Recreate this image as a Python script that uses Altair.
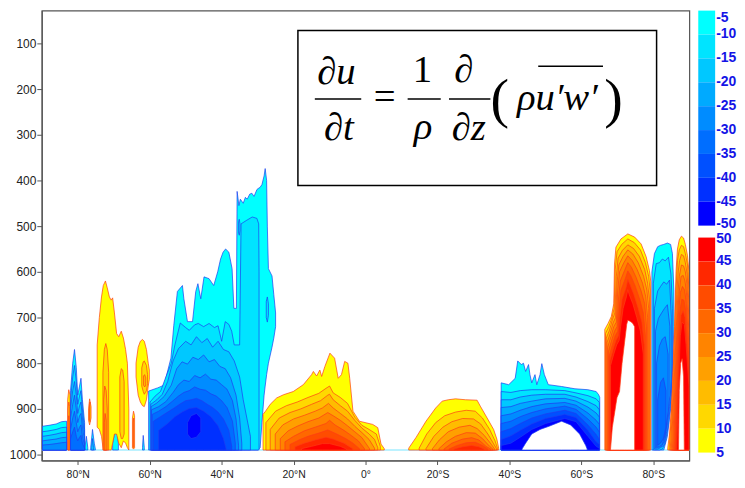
import altair as alt
import pandas as pd

BOTTOM = 990  # lowest model level (hPa)

NEG_COLORS = ["#00ffff", "#00e4ff", "#00c8ff", "#00aaff", "#008cff",
              "#006eff", "#0050ff", "#0030ff", "#0000ff"]
POS_COLORS = ["#ffff00", "#ffd800", "#ffbc00", "#ffa000", "#ff8400",
              "#ff6800", "#ff4c00", "#ff2800", "#ff0000"]
NEG_TICKS = [-5, -10, -15, -20, -25, -30, -35, -40, -45, -50]
POS_TICKS = [50, 45, 40, 35, 30, 25, 20, 15, 10, 5]
X_TICKS = [80, 60, 40, 20, 0, -20, -40, -60, -80]
Y_TICKS = [100, 200, 300, 400, 500, 600, 700, 800, 900, 1000]

# ---- contour regions: (level, [(lat, top_hPa[, bottom_hPa]) ...]) ----
NH_POLAR = [
    (1, [(89.8, 938), (88.0, 936), (86.0, 933), (84.5, 928), (83.1, 927)]),
    (2, [(89.8, 950), (88.0, 948), (86.0, 945), (84.5, 941), (83.1, 940)]),
    (3, [(89.8, 960), (88.0, 958), (86.0, 955), (84.5, 952), (83.1, 951)]),
    (4, [(89.8, 970), (88.0, 968), (86.0, 966), (84.5, 963), (83.1, 962)]),
    (5, [(89.8, 979), (88.0, 978), (86.0, 976), (84.5, 974), (83.1, 973)]),
]
NH_SPIKES_LAT = [82.0, 81.4, 80.9, 80.4, 80.0, 79.5, 79.1, 78.7, 78.1]
NH_SPIKES_TOPS = [
    [860, 800, 770, 810, 870, 850, 833, 880, 930],
    [880, 830, 805, 840, 890, 872, 860, 900, 945],
    [900, 860, 840, 870, 910, 893, 885, 920, 958],
    [920, 890, 870, 900, 930, 915, 910, 940, 970],
    [945, 920, 905, 930, 950, 940, 935, 960, 980],
    [965, 950, 940, 960, 970, 962, 958, 975, 986],
]
NH_SMALL_BLUE = [
    (1, [(78.0, 985), (77.6, 960), (77.2, 985)]),
    (1, [(76.4, 985), (75.9, 945), (75.4, 975), (75.1, 988)]),
    (2, [(76.1, 985), (75.9, 965), (75.6, 985)]),
    (1, [(70.3, 975), (69.8, 955), (69.4, 945), (69.0, 955), (68.7, 975)]),
    (1, [(62.0, 985), (61.8, 958), (61.5, 985)]),
]
NH_RED_STRIPS = [
    (1, [(82.8, 880), (82.5, 858), (82.15, 870)]),
    (2, [(82.7, 900), (82.5, 885), (82.25, 895)]),
    (3, [(82.65, 930), (82.5, 915), (82.35, 925)]),
    (1, [(77.0, 900, 925), (76.7, 878, 935), (76.3, 895, 920)]),
    (2, [(76.75, 890, 925), (76.6, 885, 928)]),
    (1, [(64.8, 920, 985), (64.5, 905, 988), (64.2, 915, 985)]),
    (2, [(64.6, 930, 985), (64.45, 920, 985)]),
]
NH_YELLOW = [
    (1, [(74.6, 760, 940), (74.0, 700, 945), (73.4, 655, 960), (72.9, 630, 990),
         (72.3, 620, 990), (71.8, 635, 990), (71.2, 655, 990), (70.7, 662, 990),
         (70.3, 657, 975), (69.8, 690, 955), (69.2, 735, 955), (68.6, 742, 975),
         (67.9, 730, 985), (67.3, 745, 970), (66.7, 770, 975), (66.2, 800, 985),
         (65.8, 900, 990)]),
    (2, [(73.0, 820), (72.6, 770), (72.2, 757), (71.8, 770), (71.4, 820)]),
    (2, [(68.3, 830, 950), (67.9, 812, 965), (67.5, 815, 965), (67.1, 840, 955)]),
    (3, [(72.8, 880), (72.5, 850), (72.1, 860), (71.8, 900)]),
    (4, [(72.6, 930), (72.4, 910), (72.1, 925)]),
    (1, [(63.8, 800, 830), (63.2, 765, 870), (62.6, 752, 885), (62.0, 748, 893),
         (61.5, 752, 895), (60.9, 770, 880), (60.4, 800, 850), (60.1, 815, 835)]),
    (2, [(62.2, 810, 850), (61.8, 797, 862), (61.5, 795, 868), (60.9, 805, 860),
         (60.6, 825, 845)]),
    (3, [(61.7, 828, 848), (61.4, 825, 852), (61.1, 832, 848)]),
]
NH_BIG_BLUE = [
    (1, [(60.3, 861), (57.8, 854), (56.0, 848), (54.1, 789), (53.3, 717), (52.3, 643),
         (50.9, 630), (50.5, 659), (49.5, 709), (48.1, 709), (47.2, 643), (46.6, 626),
         (45.8, 659), (44.9, 611), (43.5, 615), (42.2, 630), (41.1, 600), (40.3, 572),
         (39.6, 557), (38.9, 550), (38.0, 557), (37.1, 593), (36.6, 680), (35.9, 680),
         (35.7, 424), (35.2, 455), (34.8, 441), (34.0, 450), (33.4, 437), (32.9, 441),
         (32.2, 430), (31.6, 428), (31.0, 435), (30.2, 420), (29.9, 418),
         (29.3, 415, 985), (28.8, 409, 930), (28.2, 390, 870), (27.9, 374, 850),
         (27.5, 400, 825), (27.3, 500, 815), (27.0, 593, 800), (26.0, 609, 765),
         (25.5, 650, 745), (25.0, 690, 720)]),
    (2, [(59.9, 885), (58.5, 872), (57.0, 862), (55.5, 830), (54.0, 800), (53.0, 760),
         (51.5, 712), (50.0, 722), (49.0, 728), (47.5, 716), (46.5, 713), (45.0, 720),
         (43.5, 713), (42.0, 722), (41.0, 718), (40.0, 752), (39.0, 709), (38.0, 715),
         (37.2, 730), (36.5, 760), (35.0, 760), (34.6, 495), (33.0, 487), (31.5, 480),
         (30.2, 483), (29.7, 495), (29.6, 600)]),
    (2, [(35.3, 490, 515), (35.1, 485, 520), (34.9, 495, 510)]),
    (2, [(27.6, 665, 700), (27.3, 655, 710), (27.0, 670, 695)]),
    (3, [(59.7, 890), (58.0, 880), (56.5, 868), (55.0, 840), (53.5, 795), (52.0, 768),
         (50.0, 752), (48.5, 760), (47.0, 742), (45.5, 755), (44.0, 746), (42.5, 765),
         (41.0, 752), (39.5, 770), (38.0, 775), (36.5, 795), (35.0, 830), (34.0, 880),
         (33.0, 920), (32.0, 960)]),
    (4, [(59.6, 895), (58.0, 887), (56.0, 873), (54.0, 848), (52.5, 812), (51.0, 797),
         (49.5, 802), (48.0, 787), (46.5, 792), (45.0, 782), (43.5, 797), (42.0, 792),
         (40.5, 807), (39.0, 812), (37.5, 832), (36.0, 870), (35.0, 920), (34.4, 975)]),
    (5, [(59.5, 902), (57.5, 895), (55.5, 884), (53.5, 864), (52.0, 847), (50.5, 837),
         (49.0, 840), (47.5, 827), (46.0, 832), (44.5, 824), (43.0, 835), (41.5, 837),
         (40.0, 847), (38.5, 857), (37.0, 882), (36.0, 922), (35.3, 980)]),
    (6, [(59.3, 912), (57.5, 905), (55.5, 895), (53.5, 882), (52.0, 872), (50.5, 864),
         (49.0, 860), (47.5, 852), (46.0, 857), (44.5, 859), (43.0, 867), (41.5, 872),
         (40.0, 882), (38.5, 897), (37.0, 927), (36.2, 975)]),
    (7, [(59.0, 927), (57.0, 917), (55.0, 907), (53.0, 897), (51.5, 889), (50.0, 882),
         (48.5, 880), (47.0, 877), (45.5, 882), (44.0, 890), (42.5, 897), (41.0, 907),
         (39.5, 922), (38.0, 947), (37.2, 982)]),
    (8, [(57.5, 947), (55.0, 932), (53.0, 917), (51.0, 907), (49.0, 899), (47.0, 897),
         (45.0, 905), (43.0, 917), (41.0, 937), (39.5, 965), (38.8, 986)]),
    (9, [(49.5, 930, 955), (48.5, 915, 965), (47.0, 910, 962), (45.8, 920, 950)]),
]
TROP_RED = [
    (1, [(28.5, 912), (27.8, 905), (26.5, 890), (24.7, 876), (22.8, 869), (20.1, 862),
         (17.3, 847), (15.0, 825), (14.5, 818), (13.6, 828), (12.7, 815), (12.2, 829),
         (11.3, 807), (9.9, 778), (8.6, 789), (7.6, 833), (6.7, 825), (5.8, 796),
         (4.9, 800), (4.4, 833), (3.5, 905), (1.7, 927), (-2.0, 934), (-3.4, 941),
         (-4.3, 977), (-5.2, 987)]),
    (2, [(27.7, 930), (25, 905), (22, 893), (19, 885), (16, 875), (13, 866), (11, 855),
         (10, 850), (9, 865), (7, 875), (5, 888), (3, 918), (1, 936), (-1, 945),
         (-3, 955), (-4.1, 982)]),
    (3, [(26.5, 945), (24, 920), (21, 908), (18, 900), (15, 890), (12.5, 882), (10.5, 870),
         (10, 868), (9, 880), (7, 893), (5, 905), (3, 925), (1, 942), (-1, 955),
         (-2.5, 967), (-3.4, 985)]),
    (4, [(25.1, 955), (23, 935), (20, 922), (17, 914), (14, 905), (12, 898), (10.3, 888),
         (9, 898), (7, 910), (5, 922), (3, 938), (1, 952), (-1, 967), (-2.5, 986)]),
    (5, [(23.7, 965), (21.5, 948), (19, 938), (16, 928), (13, 920), (10.5, 908), (9, 915),
         (7, 925), (5, 937), (3, 950), (1, 963), (-1.1, 987)]),
    (6, [(22.4, 972), (20, 960), (17, 948), (14, 940), (11, 932), (10, 925), (8.5, 935),
         (6, 947), (4, 958), (2, 970), (0.3, 987)]),
    (7, [(21.0, 978), (18.5, 968), (16, 960), (13, 953), (10.5, 946), (8, 955),
         (5.5, 965), (3.5, 975), (1.7, 987)]),
    (8, [(19.6, 983), (17, 975), (14, 968), (11, 962), (9, 966), (6, 975), (3.6, 987)]),
    (9, [(17.8, 987), (15, 982), (12, 976), (10, 976), (7, 982), (5.3, 988)]),
]
SH_SUB_RED = [
    (1, [(-12.0, 986), (-14.0, 963), (-16.8, 927), (-19.5, 898), (-21.3, 883),
         (-23.0, 880), (-25.0, 878), (-27.8, 880), (-31.0, 881), (-31.9, 894),
         (-33.8, 920), (-35.6, 945), (-36.5, 966), (-37.0, 986)]),
    (2, [(-14.9, 986), (-17, 955), (-19.5, 930), (-22, 915), (-25, 907), (-28, 903),
         (-30.5, 905), (-32.5, 920), (-34.5, 945), (-36, 970), (-36.7, 987)]),
    (3, [(-16.8, 987), (-19, 960), (-21.5, 940), (-24, 928), (-27, 921), (-30, 922),
         (-32, 933), (-34, 955), (-35.5, 975), (-36.4, 987)]),
    (4, [(-18.6, 987), (-20.5, 968), (-23, 950), (-26, 940), (-29, 936), (-31, 943),
         (-33, 958), (-35, 978), (-35.9, 988)]),
    (5, [(-20.4, 987), (-22.5, 972), (-25, 960), (-28, 952), (-30.5, 953), (-32.5, 965),
         (-34.5, 982), (-35.4, 988)]),
    (6, [(-21.8, 988), (-24, 975), (-27, 966), (-29.5, 963), (-31.5, 968), (-33.5, 982),
         (-34.8, 988)]),
    (7, [(-23.2, 988), (-25.5, 980), (-28, 974), (-30.5, 973), (-32.5, 980), (-34.0, 988)]),
    (8, [(-24.6, 988), (-27, 983), (-29.5, 980), (-31.5, 983), (-32.9, 988)]),
]
SH_MID_BLUE_TOP = [
    (1, [(-37.7, 843), (-39.8, 847), (-41.6, 833), (-42.3, 795), (-43.3, 803),
         (-43.9, 800), (-44.5, 818), (-45.3, 803), (-45.7, 825), (-46.2, 843),
         (-47.1, 825), (-47.6, 847), (-48.5, 825), (-49.0, 801), (-49.7, 825),
         (-50.8, 847), (-54.5, 851), (-58.2, 856), (-61.8, 858), (-64.1, 862),
         (-64.8, 869), (-65.1, 875)]),
    (10, [(-43.5, 988), (-44.5, 975), (-46.2, 955), (-48.5, 945), (-51, 938),
          (-54.5, 927), (-57, 935), (-59.5, 955), (-61.2, 980), (-61.6, 988)]),
]
SH_MID_BLUE_LAT = [-37.7, -40.4, -43, -46.2, -50, -55.4, -58.5, -61.8, -64.1, -65.0]
SH_MID_BLUE_TOPS = [
    [862, 864, 860, 858, 858, 860, 865, 871, 878, 886],
    [880, 880, 874, 870, 868, 868, 874, 884, 893, 902],
    [897, 895, 888, 883, 878, 877, 883, 896, 909, 918],
    [915, 911, 903, 895, 889, 886, 892, 909, 925, 934],
    [932, 927, 917, 908, 900, 894, 901, 922, 940, 951],
    [950, 943, 932, 920, 911, 903, 910, 935, 956, 967],
    [967, 959, 947, 933, 921, 912, 919, 947, 972, 978],
    [980, 975, 962, 945, 932, 921, 928, 960, 982, 986],
]
SH_POLAR_RED = [
    (1, [(-66.5, 726), (-67.4, 713), (-68.3, 698), (-69.0, 670), (-69.2, 583), (-69.6, 546),
         (-71.0, 528), (-72.9, 517), (-74.8, 524), (-76.6, 539), (-78.0, 567), (-78.9, 597),
         (-79.3, 622)]),
    (2, [(-66.7, 735), (-67.6, 720), (-68.5, 700), (-69.1, 680), (-69.4, 595), (-69.9, 556),
         (-71.2, 540), (-72.9, 528), (-74.7, 536), (-76.4, 552), (-77.8, 580), (-78.7, 610),
         (-79.1, 640)]),
    (3, [(-66.9, 745), (-67.8, 728), (-68.6, 705), (-69.3, 690), (-69.7, 610), (-70.2, 570),
         (-71.4, 553), (-72.9, 541), (-74.5, 549), (-76.1, 566), (-77.6, 595), (-78.4, 625),
         (-78.9, 660)]),
    (4, [(-67.1, 755), (-68.0, 735), (-68.8, 712), (-69.5, 700), (-69.9, 625), (-70.4, 585),
         (-71.6, 566), (-72.9, 552), (-74.3, 561), (-75.8, 580), (-77.3, 610), (-78.2, 640),
         (-78.7, 680)]),
    (5, [(-67.3, 765), (-68.2, 742), (-69.0, 720), (-69.7, 710), (-70.1, 640), (-70.6, 600),
         (-71.8, 580), (-72.9, 565), (-74.1, 575), (-75.5, 595), (-77.0, 625), (-77.9, 655),
         (-78.4, 700)]),
    (6, [(-67.5, 775), (-68.4, 750), (-69.2, 730), (-69.9, 720), (-70.3, 660), (-70.8, 620),
         (-72.0, 597), (-72.9, 580), (-73.9, 590), (-75.2, 612), (-76.6, 642), (-77.6, 670),
         (-78.1, 720)]),
    (7, [(-67.7, 785), (-68.6, 760), (-69.4, 740), (-70.1, 730), (-70.5, 680), (-71.0, 640),
         (-72.2, 615), (-72.9, 598), (-73.7, 608), (-74.9, 630), (-76.2, 660), (-77.2, 690),
         (-77.8, 740)]),
    (8, [(-67.9, 795), (-68.8, 770), (-69.6, 750), (-70.3, 740), (-70.7, 700), (-71.3, 660),
         (-72.4, 635), (-72.9, 617), (-73.5, 628), (-74.6, 650), (-75.8, 680), (-76.8, 710),
         (-77.5, 760)]),
    (9, [(-68.1, 805), (-69.0, 780), (-69.8, 760), (-70.5, 750), (-70.9, 720), (-71.6, 680),
         (-72.5, 655), (-72.9, 639), (-73.3, 650), (-74.3, 670), (-75.4, 700), (-76.4, 730),
         (-77.2, 780)]),
    (10, [(-68.1, 988), (-68.6, 940), (-69.3, 905), (-69.6, 890), (-69.9, 875), (-70.6, 862),
          (-71.3, 800), (-72.0, 754), (-72.6, 715), (-72.9, 706), (-73.5, 708), (-74.2, 712),
          (-74.8, 720)]),
]
SH_POLAR_BLUE = [
    (1, [(-79.6, 600), (-80.3, 560), (-81.2, 545), (-82.0, 542), (-82.9, 540),
         (-83.9, 537, 960), (-84.8, 540, 900), (-85.3, 560, 820), (-85.7, 640, 720)]),
    (2, [(-80.0, 625), (-80.8, 582), (-81.7, 580), (-82.5, 572, 988), (-83.3, 576, 975),
         (-84.2, 568, 935), (-84.9, 605, 875), (-85.3, 680, 800)]),
    (3, [(-80.3, 680, 988), (-81.2, 642, 988), (-82.0, 632, 985), (-82.9, 622, 980),
         (-83.7, 627, 950), (-84.5, 618, 895), (-85.0, 700, 835)]),
    (4, [(-80.6, 730, 986), (-81.4, 702, 985), (-82.3, 690, 982), (-83.1, 680, 970),
         (-83.9, 672, 925), (-84.6, 720, 870)]),
    (5, [(-80.9, 800, 984), (-81.7, 762, 982), (-82.5, 747, 978), (-83.3, 742, 955),
         (-84.1, 780, 905)]),
    (6, [(-81.2, 880, 980), (-82.0, 842, 975), (-82.8, 832, 965), (-83.5, 860, 940)]),
]
SH_POLE_RED = [
    (1, [(-84.0, 985), (-84.5, 955), (-85.0, 900), (-85.5, 800), (-85.9, 720), (-86.3, 600),
         (-86.7, 550), (-87.2, 530), (-87.8, 522), (-88.4, 526), (-88.9, 540), (-89.5, 565),
         (-89.9, 600)]),
    (2, [(-84.4, 985), (-84.9, 930), (-85.4, 840), (-85.8, 760), (-86.3, 640), (-86.7, 575),
         (-87.2, 552), (-87.8, 542), (-88.4, 545), (-88.9, 560), (-89.5, 585), (-89.9, 640)]),
    (3, [(-84.7, 987), (-85.2, 920), (-85.7, 820), (-86.1, 740), (-86.5, 650), (-86.9, 600),
         (-87.3, 575), (-87.8, 562), (-88.4, 565), (-88.9, 580), (-89.4, 605), (-89.9, 670)]),
    (4, [(-85.0, 987), (-85.5, 900), (-86.0, 800), (-86.4, 720), (-86.8, 650), (-87.2, 610),
         (-87.8, 585), (-88.4, 587), (-88.9, 600), (-89.3, 625), (-89.9, 700)]),
    (5, [(-85.3, 987), (-85.8, 890), (-86.3, 780), (-86.7, 700), (-87.1, 650), (-87.7, 610),
         (-88.3, 608), (-88.8, 620), (-89.2, 645), (-89.9, 730)]),
    (6, [(-85.6, 987), (-86.1, 880), (-86.6, 760), (-87.0, 690), (-87.5, 645), (-88.1, 632),
         (-88.7, 640), (-89.1, 665), (-89.9, 760)]),
    (7, [(-85.9, 987), (-86.4, 870), (-86.9, 750), (-87.3, 690), (-87.9, 660), (-88.5, 662),
         (-89.0, 685), (-89.9, 790)]),
    (8, [(-86.2, 987), (-86.7, 860), (-87.2, 745), (-87.7, 695), (-88.3, 685), (-88.8, 700),
         (-89.9, 820)]),
    (9, [(-86.5, 987), (-87.0, 850), (-87.5, 740), (-88.0, 710), (-88.6, 715), (-89.1, 760),
         (-89.9, 850)]),
    (10, [(-87.0, 988), (-87.2, 860), (-87.6, 800), (-88.0, 790), (-88.4, 830), (-88.6, 988)]),
]

# equation annotation (lat / hPa positions)
EQ_BOX = [(18.8, -80.9, 71.8, 411.0)]
EQ_LINES = [(14.1, 1.2, 221.8), (-11.7, -20.9, 221.8), (-23.2, -34.7, 221.8), (-48.0, -66.0, 150.0)]
EQ_ITALIC = [("\u2202u", 8.1, 188), ("\u2202t", 7.4, 311), ("\u03c1", -16.0, 310),
             ("\u2202", -27.3, 184), ("\u2202z", -28.7, 311), ("\u03c1u\u2032w\u2032", -53.3, 246)]
EQ_UPRIGHT = [("=", -5.3, 243), ("1", -15.8, 184)]
EQ_PARENS = [("(", -37.3, 262), (")", -68.9, 262)]
BASE_LINE = [(90, -90, BOTTOM)]


def expand(parts_lat, tops):
    return [(k + 2, list(zip(parts_lat, t))) for k, t in enumerate(tops)]


REGIONS = [
    ("nhp", "neg", NH_POLAR),
    ("nhs", "neg", [(1 + k, list(zip(NH_SPIKES_LAT, t))) for k, t in enumerate(NH_SPIKES_TOPS)]),
    ("nhb", "neg", NH_SMALL_BLUE),
    ("nhr", "pos", NH_RED_STRIPS),
    ("nhy", "pos", NH_YELLOW),
    ("nhbig", "neg", NH_BIG_BLUE),
    ("trop", "pos", TROP_RED),
    ("shsub", "pos", SH_SUB_RED),
    ("shmid", "neg", SH_MID_BLUE_TOP + expand(SH_MID_BLUE_LAT, SH_MID_BLUE_TOPS)),
    ("shpr", "pos", SH_POLAR_RED),
    ("shpb", "neg", SH_POLAR_BLUE),
    ("shpole", "pos", SH_POLE_RED),
]

rows = []
for name, sign, parts in REGIONS:
    for n, (lvl, pts) in enumerate(parts):
        cls = "over" if lvl == 10 else ("n" if sign == "neg" else "p") + str(lvl)
        for p in pts:
            rows.append(dict(id=f"{name}_{n}", level=lvl, lat=p[0], top=p[1],
                             bot=p[2] if len(p) > 2 else BOTTOM, cls=cls, edge=sign))
DF = pd.DataFrame(rows)

CLS_DOMAIN = [f"n{i}" for i in range(1, 10)] + [f"p{i}" for i in range(1, 10)] + ["over"]
CLS_RANGE = NEG_COLORS + POS_COLORS + ["#ffffff"]
COLOR_SCALE = alt.Scale(domain=CLS_DOMAIN, range=CLS_RANGE)
STROKE_SCALE = alt.Scale(domain=["neg", "pos"], range=["#1f3cf0", "#ff3b14"])

LABEL_EXPR = ("datum.value > 0 ? datum.value + '\u00b0N' : "
              "(datum.value < 0 ? (-datum.value) + '\u00b0S' : '0\u00b0')")
X_ENC = alt.X("lat:Q", scale=alt.Scale(domain=[-90, 90], reverse=True, nice=False, zero=False),
              axis=alt.Axis(values=X_TICKS, labelExpr=LABEL_EXPR, title=None, grid=False,
                            tickSize=4, labelPadding=5, labelFontSize=10.5))
Y_ENC = alt.Y("top:Q", scale=alt.Scale(domain=[28.3, 1013], reverse=True, nice=False, zero=False),
              axis=alt.Axis(values=Y_TICKS, format="d", title=None, grid=False, tickSize=5,
                            labelPadding=1, labelFontSize=12),
              stack=False)

base_rule = alt.Chart(pd.DataFrame(BASE_LINE, columns=["lat", "lat2", "top"])).mark_rule(
    color="#a6eeff", strokeWidth=1.6).encode(x=X_ENC, x2="lat2:Q", y=Y_ENC)

area_layers = []
for lvl in range(1, 11):
    sub = DF[DF.level == lvl]
    area_layers.append(
        alt.Chart(sub).mark_area(strokeWidth=0.7, interpolate="linear", clip=True,
                                 strokeJoin="round").encode(
            x=X_ENC, y=Y_ENC, y2="bot:Q",
            color=alt.Color("cls:N", scale=COLOR_SCALE, legend=None),
            stroke=alt.Stroke("edge:N", scale=STROKE_SCALE, legend=None),
            detail="id:N"))

box = alt.Chart(pd.DataFrame(EQ_BOX, columns=["lat", "lat2", "top", "bot"])).mark_rect(
    fill="white", stroke="black", strokeWidth=1.5).encode(x=X_ENC, x2="lat2:Q", y=Y_ENC, y2="bot:Q")
lines = alt.Chart(pd.DataFrame(EQ_LINES, columns=["lat", "lat2", "top"])).mark_rule(
    color="black", strokeWidth=1.4).encode(x=X_ENC, x2="lat2:Q", y=Y_ENC)
t_it = alt.Chart(pd.DataFrame(EQ_ITALIC, columns=["txt", "lat", "top"])).mark_text(
    font="Liberation Serif", fontStyle="italic", fontSize=39, baseline="alphabetic",
    align="center", color="black").encode(x=X_ENC, y=Y_ENC, text="txt:N")
t_up = alt.Chart(pd.DataFrame(EQ_UPRIGHT, columns=["txt", "lat", "top"])).mark_text(
    font="Liberation Serif", fontSize=39, baseline="alphabetic",
    align="center", color="black").encode(x=X_ENC, y=Y_ENC, text="txt:N")
t_par = alt.Chart(pd.DataFrame(EQ_PARENS, columns=["txt", "lat", "top"])).mark_text(
    font="Liberation Serif", fontSize=56, baseline="alphabetic",
    align="center", color="black").encode(x=X_ENC, y=Y_ENC, text="txt:N")

main = alt.layer(base_rule, *area_layers, box, lines, t_it, t_up, t_par).properties(
    width=652, height=453, view=alt.ViewBackground(stroke="#555555", strokeWidth=1.2))

# colour bar
cb_rows = [dict(y0=i, y1=i + 1, cls=f"n{i + 1}", x0=0, x1=1) for i in range(9)]
cb_rows += [dict(y0=9.5 + j, y1=10.5 + j, cls=f"p{9 - j}", x0=0, x1=1) for j in range(9)]
NEG_LABEL_POS = [0.3, 1, 2, 3, 4, 5, 6, 7, 8, 8.93]
POS_LABEL_POS = [9.58, 10.5, 11.5, 12.5, 13.5, 14.5, 15.5, 16.5, 17.5, 18.5]
lab_rows = [dict(pos=NEG_LABEL_POS[i], txt=str(NEG_TICKS[i]), x1=1) for i in range(10)]
lab_rows += [dict(pos=POS_LABEL_POS[j], txt=str(POS_TICKS[j]), x1=1) for j in range(10)]

CB_X = alt.Scale(domain=[0, 1], nice=False, zero=False)
CB_Y = alt.Scale(domain=[0, 18.5], reverse=True, nice=False, zero=False)
cb_rect = alt.Chart(pd.DataFrame(cb_rows)).mark_rect().encode(
    x=alt.X("x0:Q", scale=CB_X, axis=None), x2="x1:Q",
    y=alt.Y("y0:Q", scale=CB_Y, axis=None), y2="y1:Q",
    color=alt.Color("cls:N", scale=COLOR_SCALE, legend=None))
cb_text = alt.Chart(pd.DataFrame(lab_rows)).mark_text(
    align="left", baseline="middle", dx=1, font="Liberation Sans", fontWeight="bold",
    fontSize=14, color="#1414e6").encode(
    x=alt.X("x1:Q", scale=CB_X, axis=None), y=alt.Y("pos:Q", scale=CB_Y, axis=None), text="txt:N")
cbar = alt.layer(cb_rect, cb_text).properties(
    width=17, height=445, view=alt.ViewBackground(stroke="transparent"))

chart = alt.hconcat(main, cbar, spacing=6).resolve_scale(
    x="independent", y="independent").properties(
    padding={"left": 0, "top": 0, "right": 0, "bottom": 0}).configure_axis(
    labelFont="Liberation Sans", labelColor="#222222", domainColor="#555555",
    tickColor="#555555", domainWidth=1.2).configure_view(stroke="transparent")

chart.save("out.html", embed_options={"renderer": "svg", "actions": False})
